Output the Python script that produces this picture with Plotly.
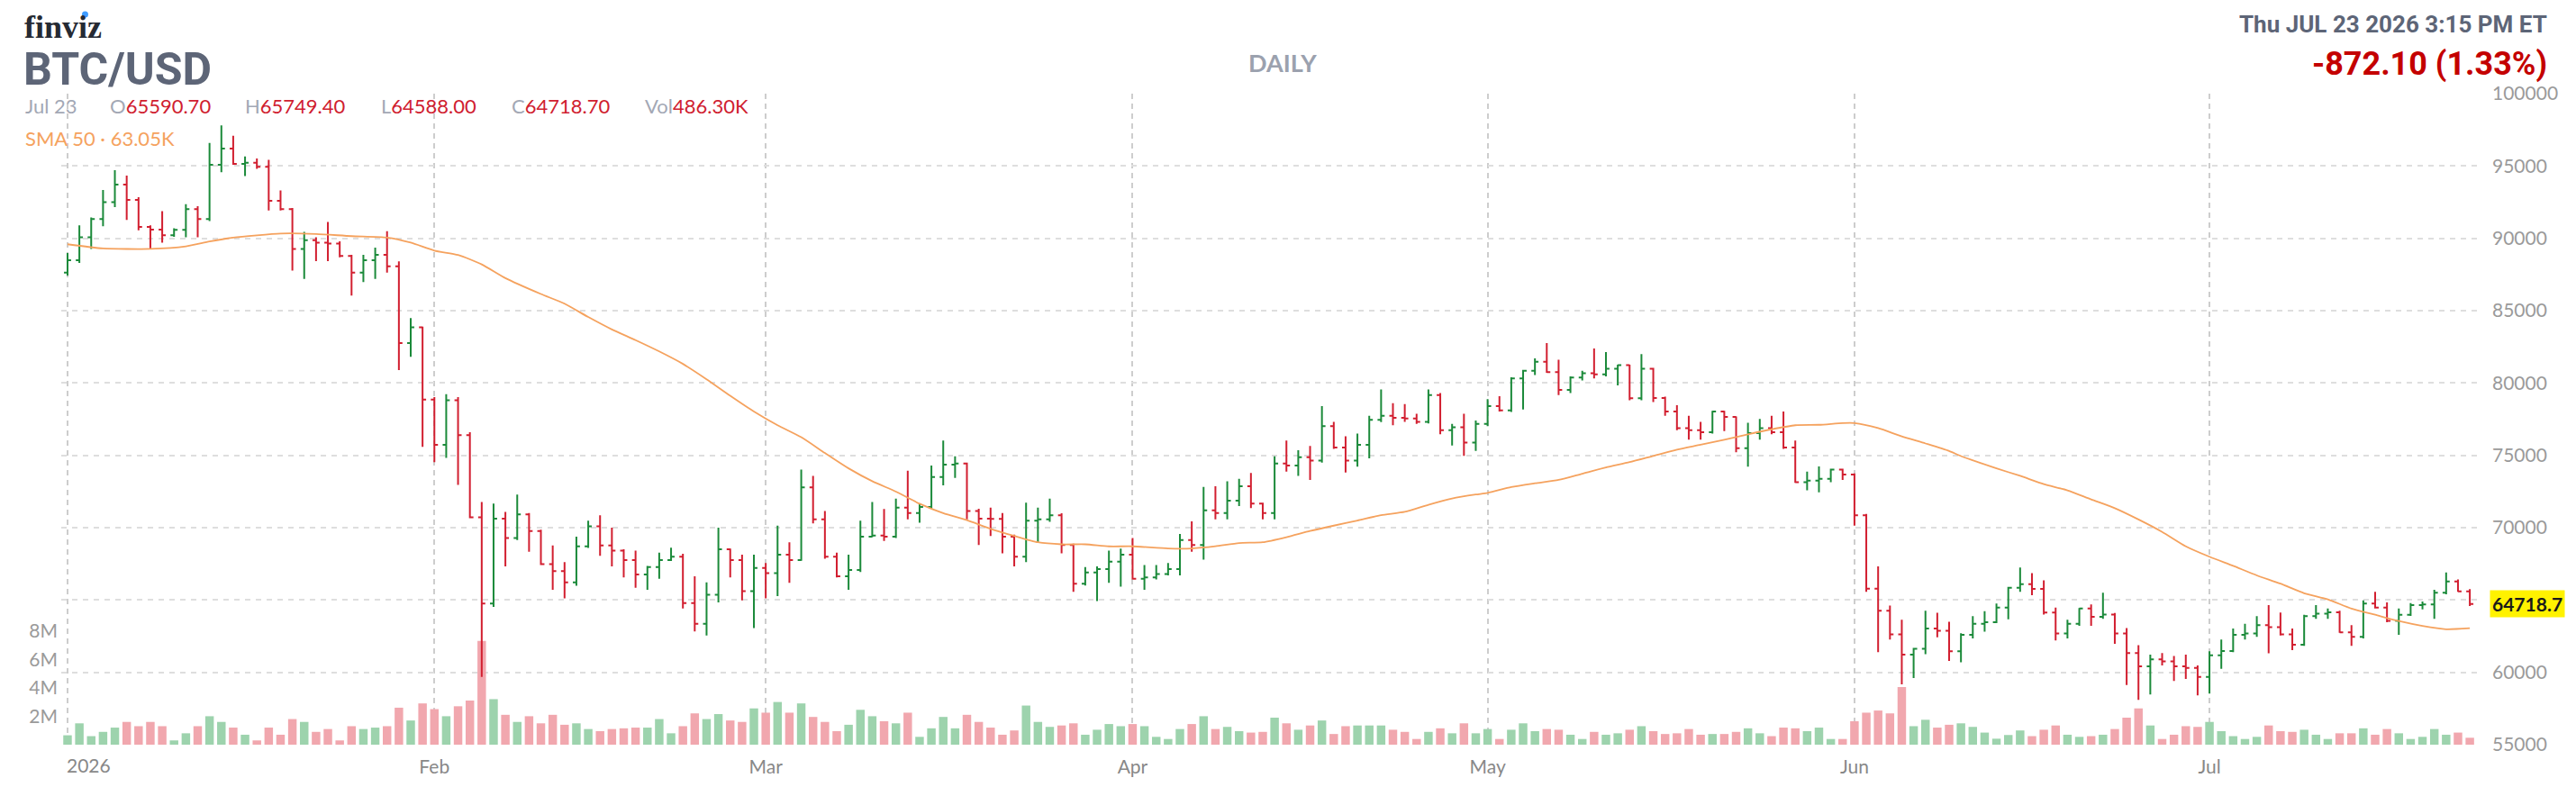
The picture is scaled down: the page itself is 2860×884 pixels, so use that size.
import pandas as pd
import plotly.graph_objects as go

# daily BTC/USD bars, 2026-01-01 .. 2026-07-23
dates = pd.date_range("2026-01-01", "2026-07-23", freq="D")

open_ = [
    87630, 88490, 90070, 91330, 92500, 93710, 92650, 90790, 90600, 90210,
    90580, 92020, 91330, 95090, 96200, 95140, 95230, 94940, 92590, 92020,
    89270, 89870, 89700, 89640, 88780, 87630, 88490, 88860, 88060, 82760,
    83850, 78860, 75730, 78800, 76390, 70720, 64750, 70630, 69280, 70920,
    69770, 67480, 66990, 66220, 68710, 70090, 68770, 68420, 67760, 66760,
    67280, 67760, 67990, 64780, 63350, 65360, 68510, 67760, 65610, 67220,
    66850, 68130, 67760, 72780, 70570, 67990, 66640, 67080, 69370, 69460,
    69370, 71380, 71010, 71430, 73500, 74360, 74440, 71150, 70630, 70600,
    69370, 67990, 70490, 70570, 70860, 68800, 66130, 66910, 67130, 67650,
    68130, 66470, 66560, 66790, 67130, 69140, 68800, 71200, 71010, 71860,
    72870, 71670, 71010, 74440, 74300, 74870, 74640, 77020, 75540, 74640,
    75730, 77450, 77740, 77600, 77550, 77310, 79170, 76740, 76940, 75880,
    77170, 78400, 78110, 80320, 80840, 81470, 80750, 79520, 80380, 80670,
    80600, 80980, 81240, 78940, 80980, 78970, 78030, 76880, 76740, 76590,
    78030, 77650, 75500, 76540, 76880, 76590, 75540, 73150, 73250, 73380,
    74010, 73670, 70860, 65790, 64260, 62630, 61220, 61630, 63030, 62880,
    61460, 62600, 63350, 63460, 64480, 65850, 66100, 65760, 64140, 62690,
    63350, 64410, 63840, 63990, 62690, 61330, 60410, 60900, 60760, 60410,
    60300, 59690, 61170, 61480, 62600, 62690, 63270, 63130, 62630, 61910,
    63890, 64060, 64150, 62770, 62460, 64750, 64470, 63560, 63980, 64640,
    64700, 65500, 66280, 65590.7,
]
high = [
    88980, 90900, 91440, 93340, 94710, 94340, 92850, 90900, 91870, 90700,
    92360, 92220, 96600, 97810, 97090, 95660, 95520, 95430, 93310, 92100,
    90440, 90070, 91130, 89800, 88860, 88860, 89350, 90500, 88400, 84480,
    83900, 79030, 79230, 79030, 76590, 71780, 71670, 71090, 72290, 71010,
    69860, 68770, 67620, 69370, 70490, 70860, 70000, 68500, 68420, 67350,
    68280, 68620, 68190, 66640, 66220, 70000, 68560, 68130, 68130, 67560,
    70140, 68990, 74010, 73580, 71150, 68280, 68130, 70490, 71780, 71290,
    72010, 73930, 71670, 74300, 76020, 74930, 74500, 71300, 71380, 71010,
    69510, 71720, 71380, 72010, 71000, 68900, 67280, 67330, 68420, 68560,
    69280, 67420, 67420, 67560, 69570, 70430, 72810, 72870, 73210, 73380,
    73780, 71720, 74930, 76020, 75360, 75650, 78400, 77310, 76310, 76510,
    77740, 79550, 78600, 78540, 77880, 79550, 79300, 77170, 77880, 77400,
    78890, 79090, 80400, 80900, 81700, 82760, 81610, 80460, 80840, 82390,
    82130, 81270, 81270, 81990, 81050, 79050, 78460, 77740, 77310, 78080,
    78080, 77680, 77250, 77510, 77740, 78030, 76020, 73870, 74240, 74070,
    74070, 73750, 70950, 67330, 64610, 63640, 61690, 64260, 64120, 63500,
    62710, 63880, 64230, 64750, 65900, 67250, 66850, 66360, 64470, 63640,
    64450, 64700, 65500, 64100, 63060, 61880, 61220, 61330, 61130, 61220,
    60470, 61460, 62260, 63030, 63350, 63890, 64640, 64140, 63030, 63980,
    64640, 64410, 64260, 63270, 64980, 65560, 64840, 64410, 64780, 64900,
    65700, 66910, 66420, 65749.4,
]
low = [
    87430, 88300, 89270, 90840, 92160, 91270, 90560, 89270, 89700, 90100,
    90070, 90070, 91200, 94570, 95090, 94310, 94800, 91930, 91930, 87770,
    87200, 88430, 88430, 88690, 86050, 86970, 87200, 87630, 80890, 81810,
    75590, 74530, 74820, 72950, 70660, 59680, 64520, 67330, 69140, 68340,
    67420, 65700, 65120, 65990, 68600, 68050, 67330, 66560, 65850, 65700,
    66470, 67700, 64410, 62830, 62540, 64840, 66560, 64980, 63060, 65120,
    65270, 66190, 67710, 70290, 67850, 66560, 65700, 66940, 69340, 69080,
    69280, 70570, 70340, 71300, 72920, 73440, 70570, 68800, 69430, 68220,
    67330, 67620, 68990, 70400, 68220, 65560, 66000, 64920, 66190, 65930,
    66420, 65700, 66420, 66700, 66700, 68340, 67790, 70570, 70570, 71490,
    71350, 70570, 70570, 73870, 73580, 73300, 74500, 75450, 73810, 74210,
    74790, 77300, 77080, 77310, 77170, 77200, 76450, 75680, 74960, 75300,
    77020, 78030, 78000, 78170, 80550, 80700, 79170, 79310, 80180, 80320,
    80460, 79830, 78800, 78800, 78690, 77740, 76740, 76080, 76080, 76500,
    76680, 75220, 74210, 76080, 76450, 75450, 73100, 72580, 72440, 73150,
    73300, 70140, 65560, 61400, 62260, 59170, 59600, 61250, 62420, 60790,
    60690, 62350, 62810, 63400, 63670, 65560, 65330, 63990, 62200, 62350,
    63210, 63210, 63700, 61970, 59120, 58100, 58470, 60470, 59410, 59550,
    58410, 58530, 60250, 61400, 62260, 62460, 61320, 62550, 61540, 61830,
    63700, 63700, 62740, 61830, 62350, 64410, 63470, 62600, 63900, 64350,
    63700, 65400, 65560, 64588.0,
]
close = [
    88490, 90070, 91330, 92500, 93710, 92650, 90790, 90600, 90210, 90580,
    92020, 91330, 95090, 96200, 95140, 95230, 94940, 92590, 92020, 89270,
    89870, 89700, 89640, 88780, 87630, 88490, 88860, 88060, 82760, 83850,
    78860, 75730, 78800, 76390, 70720, 64750, 70630, 69280, 70920, 69770,
    67480, 66990, 66220, 68710, 70090, 68770, 68420, 67760, 66760, 67280,
    67760, 67990, 64780, 63350, 65360, 68510, 67760, 65610, 67220, 66850,
    68130, 67760, 72780, 70570, 67990, 66640, 67080, 69370, 69460, 69370,
    71380, 71010, 71430, 73500, 74360, 74440, 71150, 70630, 70600, 69370,
    67990, 70490, 70570, 70860, 68800, 66130, 66910, 67130, 67650, 68130,
    66470, 66560, 66790, 67130, 69140, 68800, 71200, 71010, 71860, 72870,
    71670, 71010, 74440, 74300, 74870, 74640, 77020, 75540, 74640, 75730,
    77450, 77740, 77600, 77550, 77310, 79170, 76740, 76940, 75880, 77170,
    78400, 78110, 80320, 80840, 81470, 80750, 79520, 80380, 80670, 80600,
    80980, 81240, 78940, 80980, 78970, 78030, 76880, 76740, 76590, 78030,
    77650, 75500, 76540, 76880, 76590, 75540, 73150, 73250, 73380, 74010,
    73670, 70860, 65790, 64260, 62630, 61220, 61630, 63030, 62880, 61460,
    62600, 63350, 63460, 64480, 65850, 66100, 65760, 64140, 62690, 63350,
    64410, 63840, 63990, 62690, 61330, 60410, 60900, 60760, 60410, 60300,
    59690, 61170, 61480, 62600, 62690, 63270, 63130, 62630, 61910, 63890,
    64060, 64150, 62770, 62460, 64750, 64470, 63560, 63980, 64640, 64700,
    65500, 66280, 65590.8, 64718.7,
]
# volume in millions
volume_m = [
    0.66, 1.5, 0.6, 0.9, 1.2, 1.6, 1.3, 1.6, 1.3, 0.3,
    0.8, 1.3, 2.0, 1.6, 1.2, 0.7, 0.3, 1.2, 0.7, 1.8,
    1.6, 0.9, 1.1, 0.3, 1.3, 1.1, 1.2, 1.3, 2.6, 1.7,
    2.9, 2.5, 2.0, 2.7, 3.1, 7.3, 3.2, 2.1, 1.6, 2.0,
    1.5, 2.1, 1.4, 1.5, 1.1, 0.95, 1.1, 1.15, 1.2, 1.2,
    1.8, 0.8, 1.3, 2.2, 1.8, 2.15, 1.7, 1.6, 2.55, 2.25,
    3.0, 2.25, 2.9, 1.95, 1.6, 0.95, 1.4, 2.45, 2.0, 1.65,
    1.5, 2.25, 0.55, 1.15, 1.95, 1.15, 2.1, 1.6, 1.2, 0.7,
    1.0, 2.75, 1.6, 1.25, 1.35, 1.5, 0.7, 1.05, 1.45, 1.3,
    1.45, 1.3, 0.55, 0.4, 1.1, 1.45, 2.0, 1.1, 1.25, 0.95,
    0.85, 0.9, 1.9, 1.5, 1.05, 1.35, 1.7, 0.75, 1.3, 1.35,
    1.35, 1.35, 1.05, 0.9, 0.4, 0.9, 1.15, 0.8, 1.5, 0.8,
    1.1, 0.4, 1.05, 1.5, 0.95, 1.1, 1.05, 0.7, 0.4, 0.9,
    0.7, 0.8, 1.05, 1.3, 0.95, 0.75, 0.8, 1.1, 0.7, 0.75,
    0.75, 0.9, 1.15, 0.8, 0.6, 1.2, 1.15, 0.95, 1.2, 0.4,
    0.4, 1.65, 2.25, 2.4, 2.2, 4.05, 1.3, 1.75, 1.2, 1.4,
    1.5, 1.25, 0.85, 0.42, 0.68, 1.0, 0.6, 1.05, 1.35, 0.7,
    0.55, 0.6, 0.7, 1.1, 1.9, 2.55, 1.35, 0.4, 0.7, 1.3,
    1.25, 1.6, 0.95, 0.6, 0.4, 0.55, 1.35, 0.95, 0.9, 1.05,
    0.7, 0.4, 0.8, 0.8, 1.15, 0.7, 1.1, 0.8, 0.4, 0.55,
    1.1, 0.7, 0.85, 0.4863,
]

# SMA 50 (day index from Jan 1, value)
sma_day = [0, 3, 7, 10, 12, 14, 16, 18, 21, 24, 27, 29, 31, 33, 35, 37, 40,
           42, 44, 46, 48, 50, 52, 54, 56, 58, 60, 62, 64, 66, 68, 70, 72, 74,
           76, 78, 80, 82, 84, 86, 88, 90, 93, 95, 97, 99, 101, 103, 105, 107,
           109, 111, 113, 115, 117, 119, 120, 122, 124, 126, 128, 130, 132,
           134, 136, 138, 140, 142, 144, 146, 148, 150, 151, 153, 155, 157,
           159, 160, 163, 165, 167, 169, 171, 173, 175, 177, 179, 181, 183,
           185, 187, 189, 191, 193, 195, 197, 199, 201, 203]
sma_val = [89590, 89300, 89270, 89440, 89780, 90050, 90210, 90330, 90300,
           90150, 90050, 89700, 89150, 88850, 88200, 87250, 86150, 85480,
           84560, 83700, 82960, 82180, 81320, 80260, 79120, 78030, 77080,
           76250, 75160, 74100, 73210, 72490, 71660, 71000, 70520, 69920,
           69430, 68990, 68850, 68850, 68710, 68710, 68560, 68560, 68710,
           68940, 68990, 69340, 69770, 70140, 70490, 70860, 71090, 71580,
           72010, 72290, 72400, 72810, 73070, 73300, 73730, 74160, 74530,
           74960, 75390, 75730, 76080, 76450, 76800, 77080, 77110, 77230,
           77230, 76880, 76310, 75820, 75300, 74950, 74100, 73580, 73010,
           72580, 71950, 71350, 70570, 69710, 68710, 67990, 67360, 66700,
           66130, 65470, 65040, 64410, 63980, 63550, 63210, 62980, 63050]

month_starts = ["2026-01-01", "2026-02-01", "2026-03-01", "2026-04-01",
                "2026-05-01", "2026-06-01", "2026-07-01"]
month_labels = ["", "Feb", "Mar", "Apr", "May", "Jun", "Jul"]
price_ticks = list(range(55000, 100001, 5000))
# the 65000 label sits under the last-price tag, so it is left blank
price_labels = ["" if v == 65000 else str(v) for v in price_ticks]
vol_ticks = [2, 4, 6, 8]

GREEN = "#1b8a3a"
RED = "#d21f30"

# the page body has an 8px margin, so the figure is drawn 8px smaller
OFF = 8
W, H = 2860 - 2 * OFF, 884 - 2 * OFF
# plot area in screen pixels: x 68..2752, y 104..827
L, R, T, B = 68 - OFF, W - (2752 - OFF), 104 - OFF, H - (827 - OFF)


def px(x):
    return (x - OFF - L) / (W - L - R)


def py(y):
    return (H - B - (y - OFF)) / (H - T - B)


vol_colors = ["#9dd3ad" if c >= o else "#f1a7ae" for o, c in zip(open_, close)]

fig = go.Figure()
fig.add_trace(go.Bar(x=dates, y=volume_m, marker_color=vol_colors,
                     marker_line_width=0, width=86400000 * 0.72,
                     yaxis="y", hoverinfo="skip"))
fig.add_trace(go.Ohlc(x=dates, open=open_, high=high, low=low, close=close,
                      increasing_line_color=GREEN, decreasing_line_color=RED,
                      line_width=2, tickwidth=0.3, yaxis="y2"))
fig.add_trace(go.Scatter(x=[dates[d] for d in sma_day], y=sma_val, mode="lines",
                         line=dict(color="#f5a25e", width=1.8, shape="spline",
                                   smoothing=0.6),
                         yaxis="y2", hoverinfo="skip"))

grey = "#9a9a9a"
fig.update_layout(
    width=W, height=H,
    margin=dict(l=L, r=R, t=T, b=B),
    paper_bgcolor="white", plot_bgcolor="white",
    showlegend=False,
    font=dict(family="Lato", size=21, color=grey),
    xaxis=dict(type="date", range=["2025-12-31 11:15", "2026-07-23 14:25"],
               tickvals=month_starts, ticktext=month_labels,
               showgrid=True, gridcolor="#cdcdcd", griddash="6px,5px", gridwidth=1.5,
               zeroline=False, showline=False, ticks="", ticklabelstandoff=10,
               tickfont=dict(color="#888888"), rangeslider=dict(visible=False)),
    yaxis=dict(range=[0, 723 / 15.8], side="left", tickvals=vol_ticks,
               ticktext=[f"{v}M" for v in vol_ticks], showgrid=False,
               zeroline=False, ticks="", ticklabelstandoff=3),
    yaxis2=dict(range=[55000, 100000], side="right", overlaying="y",
                tickvals=price_ticks, ticktext=price_labels, showgrid=True,
                gridcolor="#dedede", griddash="6px,6px", gridwidth=1.5,
                zeroline=False, ticks="", ticklabelstandoff=16),
)

ann = []
ann.append(dict(text="finviz", x=px(26), y=py(9), xanchor="left", yanchor="top",
                borderpad=0,
                font=dict(family="Liberation Serif", size=36, color="#262a33", weight="bold")))
ann.append(dict(text="BTC/USD", x=px(24), y=py(77), xanchor="left", yanchor="middle",
                font=dict(family="Roboto", size=50, color="#5d6577", weight="bold")))
info_grey = "#a3a8b5"
info_red = "#d0202f"
ann.append(dict(text="Jul 23", x=px(26), y=py(117), xanchor="left", yanchor="middle",
                font=dict(size=22, color=info_grey)))
for lab, val, xp in [("O", "65590.70", 120), ("H", "65749.40", 270),
                     ("L", "64588.00", 421), ("C", "64718.70", 566),
                     ("Vol", "486.30K", 714)]:
    ann.append(dict(text=f"{lab}<span style='color:{info_red}'>{val}</span>",
                    x=px(xp), y=py(117), xanchor="left", yanchor="middle",
                    font=dict(size=22, color=info_grey)))
ann.append(dict(text="SMA 50 · 63.05K", x=px(26), y=py(153), xanchor="left",
                yanchor="middle", font=dict(size=22, color="#f5a25e")))
ann.append(dict(text="DAILY", x=px(1425), y=py(70), xanchor="center", yanchor="middle",
                font=dict(size=27, color="#9ba1ae", weight="bold")))
ann.append(dict(text="Thu JUL 23 2026 3:15 PM ET", x=px(2832), y=py(27), xanchor="right",
                yanchor="middle", font=dict(family="Roboto", size=26, color="#5d6577",
                                            weight="bold")))
ann.append(dict(text="-872.10 (1.33%)", x=px(2832), y=py(71), xanchor="right",
                yanchor="middle", font=dict(family="Roboto", size=36, color="#c40000",
                                            weight="bold")))
ann.append(dict(text="2026", x=px(72), y=py(850), xanchor="left", yanchor="middle",
                font=dict(size=21, color="#888888")))
for a in ann:
    a.update(xref="paper", yref="paper", showarrow=False)

# last price tag on the right axis
ann.append(dict(text="64718.7", xref="paper", yref="y2", x=1, y=close[-1],
                xanchor="left", yanchor="middle", xshift=14, showarrow=False,
                bgcolor="#fff200", borderpad=2,
                font=dict(size=21, color="#1a1a1a", weight="bold")))
fig.update_layout(annotations=ann)

# blue dot of the logo
fig.add_shape(type="circle", xref="paper", yref="paper",
              x0=px(91), x1=px(98), y0=py(19.5), y1=py(12.5),
              fillcolor="#3f9cff", line_width=0)

fig.write_html("out.html")
